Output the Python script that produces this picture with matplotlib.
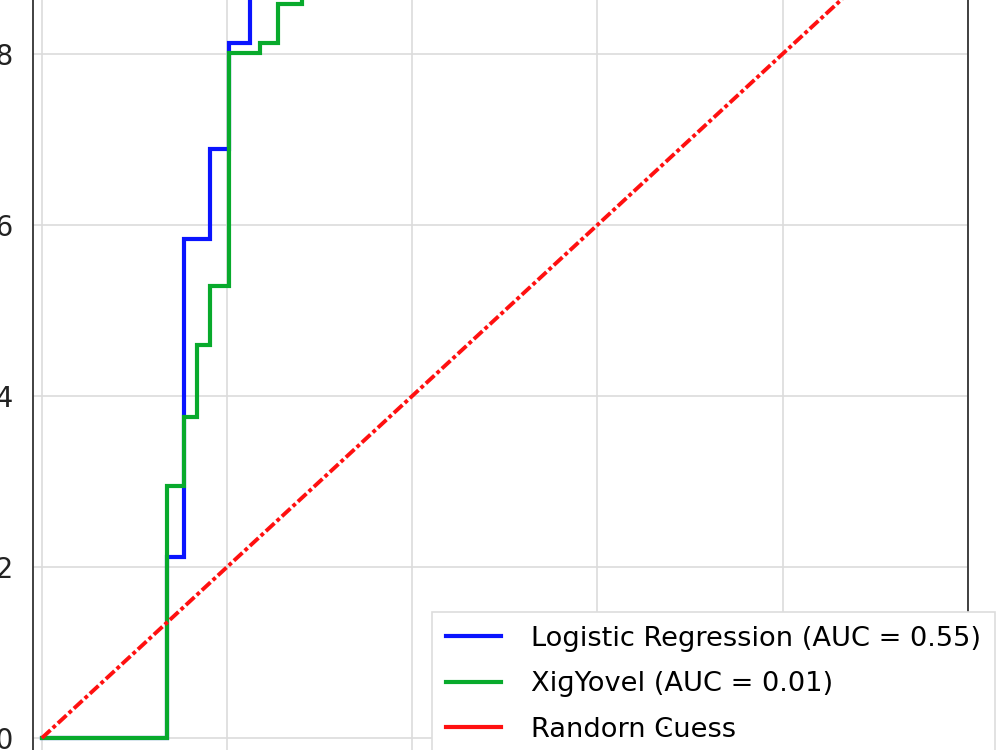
import matplotlib
matplotlib.use("Agg")
import matplotlib.pyplot as plt
from matplotlib.lines import Line2D

plt.rcParams['font.family'] = ['DejaVu Sans']

# ROC data
lr_fpr = [0.0, 0.135, 0.135, 0.153, 0.153, 0.182, 0.182, 0.202, 0.202, 0.225, 0.225, 1.0]
lr_tpr = [0.0, 0.0, 0.212, 0.212, 0.584, 0.584, 0.689, 0.689, 0.813, 0.813, 1.0, 1.0]

xg_fpr = [0.0, 0.135, 0.135, 0.153, 0.153, 0.168, 0.168, 0.182, 0.182, 0.202, 0.202,
          0.236, 0.236, 0.255, 0.255, 0.281, 0.281, 1.0]
xg_tpr = [0.0, 0.0, 0.295, 0.295, 0.375, 0.375, 0.460, 0.460, 0.529, 0.529, 0.801,
          0.801, 0.813, 0.813, 0.858, 0.858, 1.0, 1.0]

rand_x = [0.0, 1.0]
rand_y = [0.0, 1.0]

labels = ["Logistic Regression (AUC = 0.55)", "XiɡYovel (AUC = 0.01)", "Randorn Ͼuess"]
yticks = [0.0, 0.2, 0.4, 0.6, 0.8, 1.0]
xticks = [0.0, 0.2, 0.4, 0.6, 0.8, 1.0]

c_blue = "#0a14ff"
c_green = "#08aa2c"
c_red = "#ff1010"

fig = plt.figure(figsize=(10, 7.5), dpi=100)
ax = fig.add_axes([0.03265, -0.0068, 0.935, 1.1856])

ax.plot(lr_fpr, lr_tpr, color=c_blue, lw=3.0, solid_joinstyle='miter', zorder=3)
ax.plot(xg_fpr, xg_tpr, color=c_green, lw=3.0, solid_joinstyle='miter', zorder=4)
ax.plot(rand_x, rand_y, color=c_red, lw=2.8, linestyle=(0, (3, 0.8, 1, 0.8)), zorder=5)

ax.set_xlim(-0.01, 0.99)
ax.set_ylim(-0.02, 1.02)
ax.set_xticks(xticks)
ax.set_yticks(yticks)
ax.grid(True, color="#dcdcdc", lw=1.2)
ax.set_axisbelow(True)
ax.tick_params(axis='both', length=0, pad=14, labelsize=20, colors="#222222")
for s in ax.spines.values():
    s.set_color("#333333")
    s.set_linewidth(1.3)

handles = [Line2D([], [], color=c_blue, lw=3),
           Line2D([], [], color=c_green, lw=3),
           Line2D([], [], color=c_red, lw=3)]
leg = ax.legend(handles, labels, loc='upper left',
                bbox_to_anchor=(0.432, 1 - 612 / 750), bbox_transform=fig.transFigure,
                borderaxespad=0, fontsize=19.6, handlelength=2.05, handletextpad=1.1,
                labelspacing=0.72, borderpad=0.5, frameon=True, fancybox=False,
                framealpha=1.0, edgecolor="#dddddd")
leg.get_frame().set_linewidth(1.2)

fig.savefig("out.png", dpi=100)
